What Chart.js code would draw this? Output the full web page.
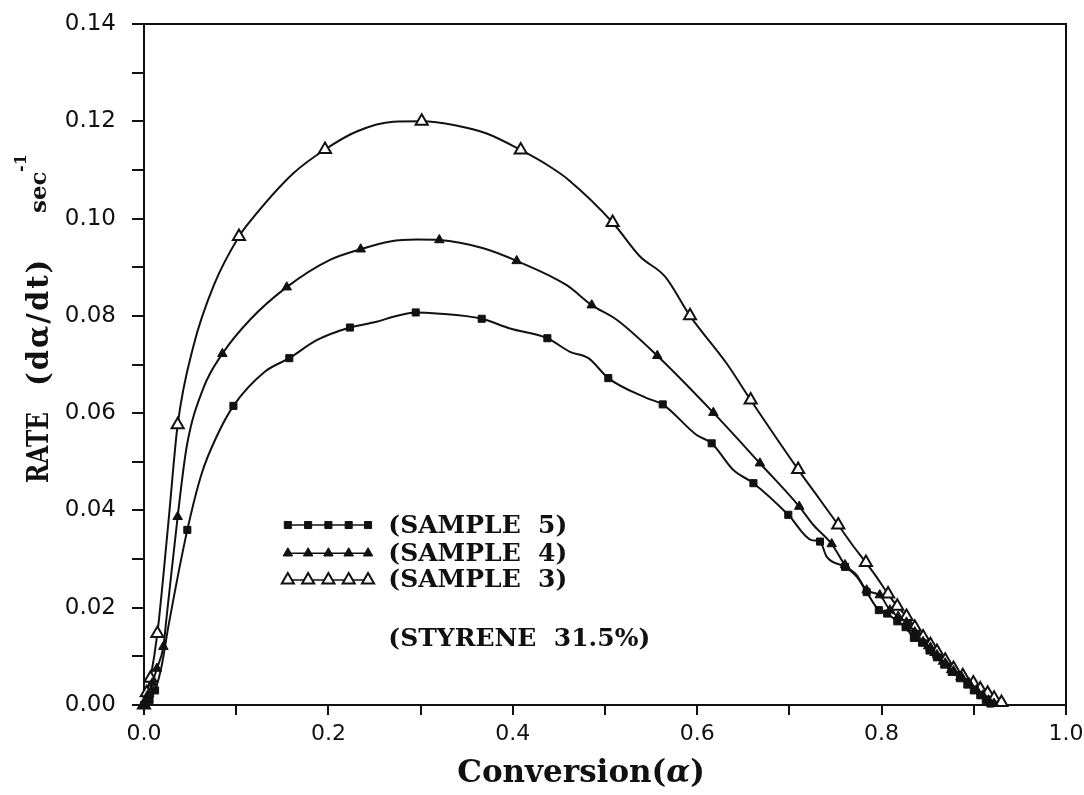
<!DOCTYPE html>
<html>
<head>
<meta charset="utf-8">
<script src="https://cdn.jsdelivr.net/npm/chart.js@4/dist/chart.umd.min.js"></script>
<style>
  html, body { margin: 0; background: #fff; }
</style>
</head>
<body>
<canvas id="c" width="1084" height="795"></canvas>
<script>
// sample 3 (open triangles)
const s3X = [0, 0.003, 0.007, 0.0145, 0.0264, 0.0365, 0.0535, 0.076, 0.103, 0.115, 0.162, 0.1963, 0.2307, 0.2704, 0.3012, 0.3373, 0.3717, 0.4086, 0.440, 0.4602, 0.5083, 0.538, 0.565, 0.5922, 0.632, 0.658, 0.7095, 0.732, 0.753, 0.768, 0.783, 0.795, 0.807, 0.817, 0.827, 0.836, 0.845, 0.853, 0.860, 0.869, 0.878, 0.888, 0.8995, 0.907, 0.915, 0.922, 0.930]
const s3Y = [0, 0.0025, 0.0055, 0.0147, 0.0374, 0.0576, 0.0737, 0.0864, 0.0963, 0.0994, 0.1093, 0.1142, 0.1179, 0.1199, 0.1200, 0.1192, 0.1175, 0.1141, 0.1107, 0.1080, 0.0992, 0.0922, 0.0881, 0.0800, 0.0702, 0.0627, 0.0484, 0.0425, 0.0370, 0.0330, 0.0293, 0.0262, 0.0228, 0.0203, 0.0182, 0.0160, 0.0140, 0.0124, 0.0110, 0.0092, 0.0075, 0.0060, 0.0045, 0.0033, 0.0024, 0.0014, 0.0005]
const s3Marks = [0, 1, 2, 3, 5, 8, 11, 14, 17, 20, 23, 25, 26, 28, 30, 32, 33, 34, 35, 36, 37, 38, 39, 40, 41, 42, 43, 44, 45, 46]

// sample 4 (filled triangles)
const s4X = [0, 0.004, 0.009, 0.014, 0.021, 0.0246, 0.0365, 0.0463, 0.0643, 0.085, 0.115, 0.1548, 0.2017, 0.235, 0.2668, 0.2957, 0.3203, 0.368, 0.4042, 0.4585, 0.4856, 0.5127, 0.5567, 0.6175, 0.668, 0.7107, 0.726, 0.7459, 0.7603, 0.773, 0.7838, 0.798, 0.809, 0.818, 0.827, 0.836, 0.845, 0.853, 0.860, 0.869, 0.878, 0.887, 0.895, 0.903, 0.910, 0.916, 0.922]
const s4Y = [0, 0.0020, 0.0045, 0.0075, 0.0120, 0.0182, 0.0387, 0.0531, 0.0651, 0.0722, 0.0792, 0.0859, 0.0915, 0.0937, 0.0953, 0.0957, 0.0956, 0.0939, 0.0913, 0.0863, 0.0822, 0.0792, 0.0718, 0.0601, 0.0497, 0.0408, 0.0370, 0.0331, 0.0288, 0.0267, 0.0236, 0.0226, 0.0195, 0.0182, 0.0170, 0.0150, 0.0130, 0.0118, 0.0103, 0.0086, 0.0070, 0.0057, 0.0045, 0.0031, 0.0020, 0.0010, 0.0003]
const s4Marks = [0, 1, 2, 3, 4, 6, 9, 11, 13, 16, 18, 20, 22, 23, 24, 25, 27, 28, 30, 31, 32, 33, 34, 35, 36, 37, 38, 39, 40, 41, 42, 43, 44, 45, 46]

// sample 5 (squares)
const s5X = [0, 0.006, 0.012, 0.019, 0.0264, 0.047, 0.0626, 0.0788, 0.097, 0.131, 0.1576, 0.1873, 0.2234, 0.2523, 0.2704, 0.2947, 0.3175, 0.3663, 0.397, 0.4375, 0.462, 0.482, 0.5036, 0.5452, 0.5626, 0.5994, 0.6157, 0.6392, 0.661, 0.6988, 0.724, 0.7332, 0.7404, 0.7603, 0.773, 0.7838, 0.797, 0.806, 0.817, 0.826, 0.835, 0.844, 0.852, 0.860, 0.868, 0.876, 0.885, 0.893, 0.900, 0.907, 0.913, 0.918]
const s5Y = [0, 0.0010, 0.0030, 0.0079, 0.0161, 0.0360, 0.0476, 0.0552, 0.0615, 0.0685, 0.0713, 0.0750, 0.0776, 0.0788, 0.0798, 0.0807, 0.0805, 0.0794, 0.0774, 0.0754, 0.0726, 0.0713, 0.0672, 0.0631, 0.0618, 0.0555, 0.0538, 0.0483, 0.0456, 0.0391, 0.0339, 0.0336, 0.0305, 0.0284, 0.0264, 0.0232, 0.0195, 0.0188, 0.0172, 0.0160, 0.0138, 0.0128, 0.0112, 0.0098, 0.0083, 0.0068, 0.0055, 0.0042, 0.0030, 0.0020, 0.0010, 0.0003]
const s5Marks = [0, 1, 2, 5, 8, 10, 12, 15, 17, 19, 22, 24, 26, 28, 29, 31, 33, 35, 36, 37, 38, 39, 40, 41, 42, 43, 44, 45, 46, 47, 48, 49, 50, 51]

const sampleNames = ["(SAMPLE  5)", "(SAMPLE  4)", "(SAMPLE  3)"]
const noteText = "(STYRENE  31.5%)"
const xTitle = ["Conversion(", "α", ")"]
const yTitle = ["RATE", "(dα/dt)", "sec", "-1"]

const ink = "#111"
const serif = '"DejaVu Serif", "Liberation Serif", serif'
const sans = '"DejaVu Sans", "Liberation Sans", sans-serif'

const pts = (xs, ys) => xs.map((x, i) => ({ x, y: ys[i] }))

function series(label, xs, ys, marks, style, r, fill, bw) {
  return {
    label,
    data: pts(xs, ys),
    borderColor: ink,
    borderWidth: 2,
    cubicInterpolationMode: "monotone",
    clip: false,
    pointStyle: style,
    pointRadius: ctx => marks.includes(ctx.dataIndex) ? r : 0,
    pointBackgroundColor: fill,
    pointBorderColor: ink,
    pointBorderWidth: bw,
    mark: { style, r, fill, bw }
  }
}

function drawMark(ctx, m, x, y) {
  ctx.beginPath()
  if (m.style === "rect") {
    const s = m.r * Math.SQRT1_2
    ctx.rect(x - s, y - s, 2 * s, 2 * s)
  } else {
    let a = 0
    ctx.moveTo(x + Math.sin(a) * m.r, y - Math.cos(a) * m.r)
    a += 2 * Math.PI / 3
    ctx.lineTo(x + Math.sin(a) * m.r, y - Math.cos(a) * m.r)
    a += 2 * Math.PI / 3
    ctx.lineTo(x + Math.sin(a) * m.r, y - Math.cos(a) * m.r)
    ctx.closePath()
  }
  ctx.fillStyle = m.fill
  ctx.fill()
  ctx.lineWidth = m.bw
  ctx.strokeStyle = ink
  ctx.stroke()
}

function spaced(ctx, text, x, y, gap) {
  for (const ch of text) {
    ctx.fillText(ch, x, y)
    x += ctx.measureText(ch).width + gap
  }
}

const deco = {
  id: "deco",
  afterDraw(chart) {
    const { ctx, chartArea: a } = chart
    const sx = chart.scales.x, sy = chart.scales.y
    ctx.save()

    // frame (top and right)
    ctx.strokeStyle = ink
    ctx.lineWidth = 2
    ctx.beginPath()
    ctx.moveTo(a.left, a.top)
    ctx.lineTo(a.right, a.top)
    ctx.lineTo(a.right, a.bottom)
    ctx.stroke()

    // legend inside plot
    const markX = [0.156, 0.178, 0.200, 0.222, 0.243]
    const rowY = [0.0370, 0.0312, 0.0257]
    ctx.font = "bold 25px " + serif
    ctx.textBaseline = "middle"
    chart.data.datasets.forEach((ds, row) => {
      const py = sy.getPixelForValue(rowY[row])
      ctx.strokeStyle = ink
      ctx.lineWidth = 1.5
      ctx.beginPath()
      ctx.moveTo(sx.getPixelForValue(markX[0]), py)
      ctx.lineTo(sx.getPixelForValue(markX[4]), py)
      ctx.stroke()
      markX.forEach(mx => drawMark(ctx, ds.mark, sx.getPixelForValue(mx), py))
      ctx.fillStyle = ink
      ctx.fillText(ds.label, sx.getPixelForValue(0.265), py + 1)
    })
    ctx.fillStyle = ink
    ctx.fillText(noteText, sx.getPixelForValue(0.265), sy.getPixelForValue(0.0134))

    // x title
    ctx.textBaseline = "alphabetic"
    const fx = "bold 31px " + serif, fxi = "italic bold 31px " + serif
    ctx.font = fx
    const w0 = ctx.measureText(xTitle[0]).width, w2 = ctx.measureText(xTitle[2]).width
    ctx.font = fxi
    const w1 = ctx.measureText(xTitle[1]).width
    let tx = 581 - (w0 + w1 + w2) / 2
    const ty = a.bottom + 77
    ctx.font = fx; ctx.fillText(xTitle[0], tx, ty); tx += w0
    ctx.font = fxi; ctx.fillText(xTitle[1], tx, ty); tx += w1
    ctx.font = fx; ctx.fillText(xTitle[2], tx, ty)

    // y title (rotated)
    ctx.translate(48, 0)
    ctx.rotate(-Math.PI / 2)
    ctx.textAlign = "left"
    ctx.save()
    ctx.scale(0.8, 1)
    ctx.font = "bold 29px " + serif
    ctx.fillText(yTitle[0], -483 / 0.8, 0)
    ctx.restore()
    ctx.font = "bold 29px " + serif
    spaced(ctx, yTitle[1], -386, 0, 2)
    ctx.font = "bold 23px " + serif
    ctx.fillText(yTitle[2], -213, -2)
    ctx.font = "bold 16px " + serif
    ctx.fillText(yTitle[3], -172, -22)

    ctx.restore()
  }
}

new Chart(document.getElementById("c"), {
  type: "line",
  data: {
    datasets: [
      series(sampleNames[0], s5X, s5Y, s5Marks, "rect", 5, ink, 1),
      series(sampleNames[1], s4X, s4Y, s4Marks, "triangle", 5.5, ink, 1),
      series(sampleNames[2], s3X, s3Y, s3Marks, "triangle", 7, "#fff", 2)
    ]
  },
  options: {
    responsive: false,
    animation: false,
    events: [],
    layout: { padding: { left: 44, right: 18, top: 24, bottom: 0 } },
    plugins: { legend: { display: false }, tooltip: { enabled: false } },
    scales: {
      x: {
        type: "linear",
        min: 0,
        max: 1,
        afterFit: s => { s.height = 90; s.paddingLeft = 0; s.paddingRight = 0 },
        ticks: {
          stepSize: 0.1,
          autoSkip: false,
          maxRotation: 0,
          padding: 6,
          color: ink,
          font: { family: sans, size: 22 },
          callback: v => Math.round(v * 10) % 2 === 0 ? v.toFixed(1) : ""
        },
        grid: { drawOnChartArea: false, tickLength: 10, color: ink, lineWidth: 2 },
        border: { color: ink, width: 2 }
      },
      y: {
        type: "linear",
        min: 0,
        max: 0.14,
        afterFit: s => { s.width = 100; s.paddingTop = 0; s.paddingBottom = 0 },
        ticks: {
          stepSize: 0.01,
          autoSkip: false,
          padding: 16,
          color: ink,
          font: { family: sans, size: 23 },
          callback: v => Math.round(v * 100) % 2 === 0 ? v.toFixed(2) : ""
        },
        grid: { drawOnChartArea: false, tickLength: 12, color: ink, lineWidth: 2 },
        border: { color: ink, width: 2 }
      }
    }
  },
  plugins: [deco]
})
</script>
</body>
</html>
